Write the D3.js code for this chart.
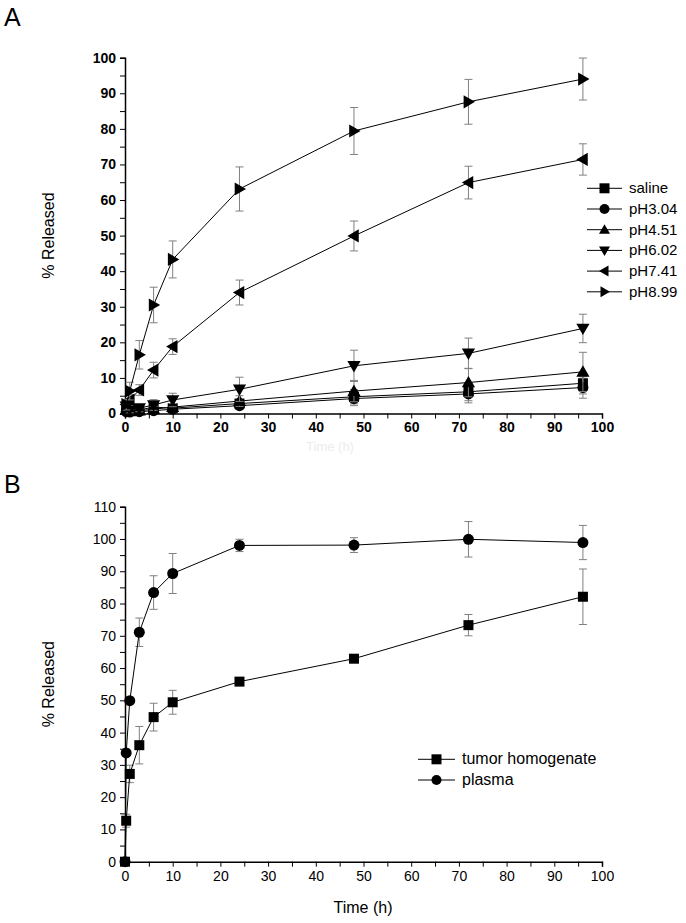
<!DOCTYPE html>
<html><head><meta charset="utf-8">
<script src="https://cdn.jsdelivr.net/npm/d3@7"></script>
<style>body{margin:0;background:#fff;} svg{display:block;font-family:"Liberation Sans",Arial,sans-serif;}</style>
</head><body>
<svg id="chart" width="686" height="923"></svg>
<script>
// ---- Panel A data ----
const timesA = [0.25, 1, 3, 6, 10, 24, 48, 72, 96];
const seriesNamesA = ["saline", "pH3.04", "pH4.51", "pH6.02", "pH7.41", "pH8.99"];
const markersA = ["square", "circle", "up", "down", "left", "right"];
const salineVals = [1.5, 0.8, 1.0, 1.8, 1.5, 2.8, 4.7, 6.1, 8.5];
const pH304Vals = [0.5, 0.4, 0.5, 0.8, 1.2, 2.2, 4.2, 5.5, 7.3];
const pH451Vals = [1.0, 0.6, 0.8, 1.2, 1.8, 3.5, 6.3, 8.7, 11.7];
const pH602Vals = [2.0, 1.2, 1.5, 2.4, 3.8, 6.8, 13.4, 16.9, 23.9];
const pH741Vals = [2.5, 3.8, 6.6, 12.2, 18.8, 34.0, 49.9, 64.9, 71.4];
const pH899Vals = [2.5, 6.3, 16.5, 30.5, 43.3, 63.1, 79.4, 87.6, 94.0];
const salineErr = [0.5, 0.5, 0.5, 0.8, 0.8, 1.2, 2.0, 2.5, 3.0];
const pH304Err = [0.3, 0.3, 0.4, 0.5, 0.6, 1.0, 2.0, 2.5, 3.0];
const pH451Err = [0.5, 0.5, 0.5, 0.8, 1.0, 1.5, 3.0, 4.0, 5.5];
const pH602Err = [1.0, 1.0, 1.0, 1.5, 1.9, 3.4, 4.4, 4.3, 4.0];
const pH741Err = [1.0, 1.5, 1.5, 2.2, 2.2, 3.5, 4.2, 4.6, 4.4];
const pH899Err = [1.5, 2.5, 4.0, 5.0, 5.2, 6.2, 6.6, 6.3, 5.9];
const xTicksA = [0, 10, 20, 30, 40, 50, 60, 70, 80, 90, 100];
const yTicksA = [0, 10, 20, 30, 40, 50, 60, 70, 80, 90, 100];

// ---- Panel B data ----
const timesB = [0, 0.25, 1, 3, 6, 10, 24, 48, 72, 96];
const seriesNamesB = ["tumor homogenate", "plasma"];
const markersB = ["square", "circle"];
const tumorVals = [0, 12.7, 27.2, 36.1, 44.8, 49.4, 55.8, 62.9, 73.3, 82.1];
const plasmaVals = [0, 33.7, 49.9, 71.1, 83.4, 89.3, 98.0, 98.1, 99.9, 98.9];
const tumorErr = [0, 2.0, 2.7, 5.8, 4.3, 3.7, 0.5, 0.5, 3.3, 8.6];
const plasmaErr = [0, 0.5, 0.5, 4.4, 5.2, 6.2, 1.9, 2.3, 5.5, 5.3];
const xTicksB = [0, 10, 20, 30, 40, 50, 60, 70, 80, 90, 100];
const yTicksB = [0, 10, 20, 30, 40, 50, 60, 70, 80, 90, 100, 110];

const svg = d3.select("#chart");

function markerPath(type, s) {
  const h = s / 2;
  switch (type) {
    case "square": return `M${-h},${-h}H${h}V${h}H${-h}Z`;
    case "circle": return d3.symbol(d3.symbolCircle, Math.PI * h * h)();
    case "up": return `M0,${-h*1.1}L${h*1.1},${h*0.8}L${-h*1.1},${h*0.8}Z`;
    case "down": return `M0,${h*1.1}L${h*1.1},${-h*0.8}L${-h*1.1},${-h*0.8}Z`;
    case "left": return `M${-h*1.1},0L${h*0.8},${-h*1.1}L${h*0.8},${h*1.1}Z`;
    case "right": return `M${h*1.1},0L${-h*0.8},${-h*1.1}L${-h*0.8},${h*1.1}Z`;
  }
}

function panel(opts) {
  const {x0, x1, yBottom, yTop, yMax, times, series, xTicks, yTicks, bold, legend, sizes} = opts;
  const x = d3.scaleLinear().domain([0, 100]).range([x0, x1]);
  const y = d3.scaleLinear().domain([0, yMax]).range([yBottom, yTop]);
  const g = svg.append("g");
  const fw = bold ? "bold" : "normal";

  const minorX = d3.range(0, 101, 5);
  const minorY = d3.range(0, yMax + 1, 5);
  const xAxis = d3.axisBottom(x).tickValues(minorX).tickSize(5).tickPadding(4)
    .tickFormat(d => xTicks.includes(d) ? d : "");
  const yAxis = d3.axisLeft(y).tickValues(minorY).tickSize(5).tickPadding(4)
    .tickFormat(d => yTicks.includes(d) ? d : "");
  const gx = g.append("g").attr("transform", `translate(0,${yBottom})`).call(xAxis);
  const gy = g.append("g").attr("transform", `translate(${x0},0)`).call(yAxis);
  [gx, gy].forEach(a => {
    a.select(".domain").attr("stroke", "#000").attr("stroke-width", 1.5);
    a.selectAll(".tick line").attr("stroke", "#000").attr("stroke-width", 1);
    a.selectAll(".tick text").attr("font-size", opts.tickFs).attr("font-weight", fw)
      .attr("fill", "#000").attr("font-family", '"Liberation Sans",Arial,sans-serif');
  });

  const line = d3.line().x(d => x(d.t)).y(d => y(d.v));
  series.forEach(s => {
    const pts = times.map((t, i) => ({t, v: s.vals[i], e: s.err[i]}));
    const eg = g.append("g").attr("stroke", "#808080").attr("stroke-width", 1);
    pts.forEach(p => {
      if (p.e <= 0) return;
      const cx = x(p.t), yt = y(p.v + p.e), yb = y(p.v - p.e);
      eg.append("line").attr("x1", cx).attr("x2", cx).attr("y1", yt).attr("y2", yb);
      eg.append("line").attr("x1", cx - 4).attr("x2", cx + 4).attr("y1", yt).attr("y2", yt);
      eg.append("line").attr("x1", cx - 4).attr("x2", cx + 4).attr("y1", yb).attr("y2", yb);
    });
    g.append("path").datum(pts).attr("d", line).attr("fill", "none")
      .attr("stroke", "#000").attr("stroke-width", 1);
    g.append("g").selectAll("path").data(pts).join("path")
      .attr("transform", d => `translate(${x(d.t)},${y(d.v)})`)
      .attr("d", markerPath(s.marker, sizes[s.marker])).attr("fill", "#000");
  });

  const lg = g.append("g");
  series.forEach((s, i) => {
    const yy = legend.y + i * legend.dy;
    lg.append("line").attr("x1", legend.x).attr("x2", legend.x + legend.w)
      .attr("y1", yy).attr("y2", yy).attr("stroke", "#000").attr("stroke-width", 1);
    lg.append("path").attr("transform", `translate(${legend.x + legend.w / 2},${yy})`)
      .attr("d", markerPath(s.marker, legend.ms)).attr("fill", "#000");
    lg.append("text").attr("x", legend.x + legend.w + 7).attr("y", yy + 5)
      .attr("font-size", legend.fs).text(s.name);
  });

  g.append("text").attr("transform", `translate(${opts.ylabX},${(yBottom + yTop) / 2}) rotate(-90)`)
    .attr("text-anchor", "middle").attr("font-size", 16).text("% Released");
  return {x, y};
}

const valsA = [salineVals, pH304Vals, pH451Vals, pH602Vals, pH741Vals, pH899Vals];
const errA = [salineErr, pH304Err, pH451Err, pH602Err, pH741Err, pH899Err];
panel({
  x0: 125, x1: 602, yBottom: 413.5, yTop: 57.7, yMax: 100, times: timesA,
  series: seriesNamesA.map((n, i) => ({name: n, marker: markersA[i], vals: valsA[i], err: errA[i]})),
  xTicks: xTicksA, yTicks: yTicksA, bold: true, ylabX: 54, tickFs: 14,
  sizes: {square: 10, circle: 11, up: 12, down: 12, left: 12, right: 12},
  legend: {x: 587, w: 35, y: 188.3, dy: 20.7, ms: 10, fs: 15}
});

const valsB = [tumorVals, plasmaVals];
const errB = [tumorErr, plasmaErr];
panel({
  x0: 125, x1: 602, yBottom: 861.7, yTop: 506.7, yMax: 110, times: timesB,
  series: seriesNamesB.map((n, i) => ({name: n, marker: markersB[i], vals: valsB[i], err: errB[i]})),
  xTicks: xTicksB, yTicks: yTicksB, bold: false, ylabX: 54, tickFs: 14,
  sizes: {square: 10, circle: 11},
  legend: {x: 418, w: 37, y: 759.3, dy: 20.7, ms: 10, fs: 16}
});

svg.append("text").attr("x", 330).attr("y", 451).attr("text-anchor", "middle")
  .attr("font-size", 13).attr("fill", "#ececec").text("Time (h)");
svg.append("text").attr("x", 363).attr("y", 913).attr("text-anchor", "middle")
  .attr("font-size", 16).text("Time (h)");
svg.append("text").attr("x", 4).attr("y", 26).attr("font-size", 25).text("A");
svg.append("text").attr("x", 4).attr("y", 493).attr("font-size", 25).text("B");
</script>
</body></html>
